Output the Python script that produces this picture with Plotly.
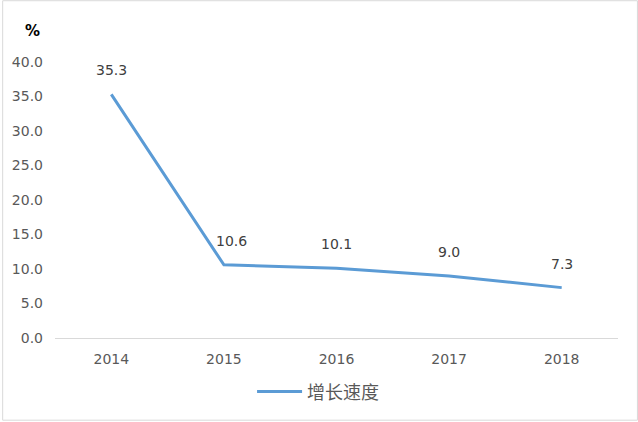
import plotly.graph_objects as go

years = ["2014", "2015", "2016", "2017", "2018"]
growth = [35.3, 10.6, 10.1, 9.0, 7.3]
series_name = "增长速度"
y_ticks = [0, 5, 10, 15, 20, 25, 30, 35, 40]
y_tick_labels = ["0.0", "5.0", "10.0", "15.0", "20.0", "25.0", "30.0", "35.0", "40.0"]

font_fam = "DejaVu Sans, Verdana, sans-serif"
txt_color = "#595959"

L, R, T, B = 53, 618, 62, 339
PW, PH = R - L, B - T

fig = go.Figure()
fig.add_trace(go.Scatter(
    x=years, y=growth, mode="lines", name=series_name,
    line=dict(color="#5b9bd5", width=3),
))

for i, (xv, yv) in enumerate(zip(years, growth)):
    fig.add_annotation(x=i, y=yv, xref="x", yref="y", text=f"{yv:.1f}", showarrow=False,
                       yshift=24, xshift=8 if i == 1 else 0,
                       font=dict(family=font_fam, size=14, color="#404040"))

fig.add_annotation(x=(30 - L) / PW, y=(B - 31) / PH, xref="paper", yref="paper",
                   xanchor="center", yanchor="middle",
                   text="<b>%</b>", showarrow=False,
                   font=dict(family=font_fam, size=15, color="#000000"))

fig.update_layout(
    width=638, height=422,
    margin=dict(l=L, r=638 - R, t=T, b=422 - B),
    paper_bgcolor="white", plot_bgcolor="white",
    showlegend=True,
    legend=dict(orientation="h", x=(317 - L) / PW, xanchor="center", y=(B - 393) / PH,
                yanchor="middle", itemwidth=45,
                font=dict(family="Noto Sans CJK SC", size=18, color=txt_color)),
    xaxis=dict(type="category", range=[-0.5, 4.5], showgrid=False, showline=False,
               zeroline=False, ticks="", ticklabelstandoff=11,
               tickfont=dict(family=font_fam, size=14, color=txt_color)),
    yaxis=dict(range=[0, 40], tickvals=y_ticks, ticktext=y_tick_labels, showgrid=False,
               showline=False, zeroline=True, zerolinecolor="#d9d9d9", zerolinewidth=1,
               ticks="", ticklabelstandoff=11,
               tickfont=dict(family=font_fam, size=14, color=txt_color)),
    shapes=[dict(type="rect", xref="paper", yref="paper",
                 x0=(0.5 - L) / PW, x1=(637.5 - L) / PW,
                 y0=(B - 421.5) / PH, y1=(B - 0.5) / PH,
                 line=dict(color="#d9d9d9", width=1))],
)

fig.write_html("out.html", config={"displayModeBar": False},
               post_script="document.body.style.margin='0';document.body.style.padding='0';")
